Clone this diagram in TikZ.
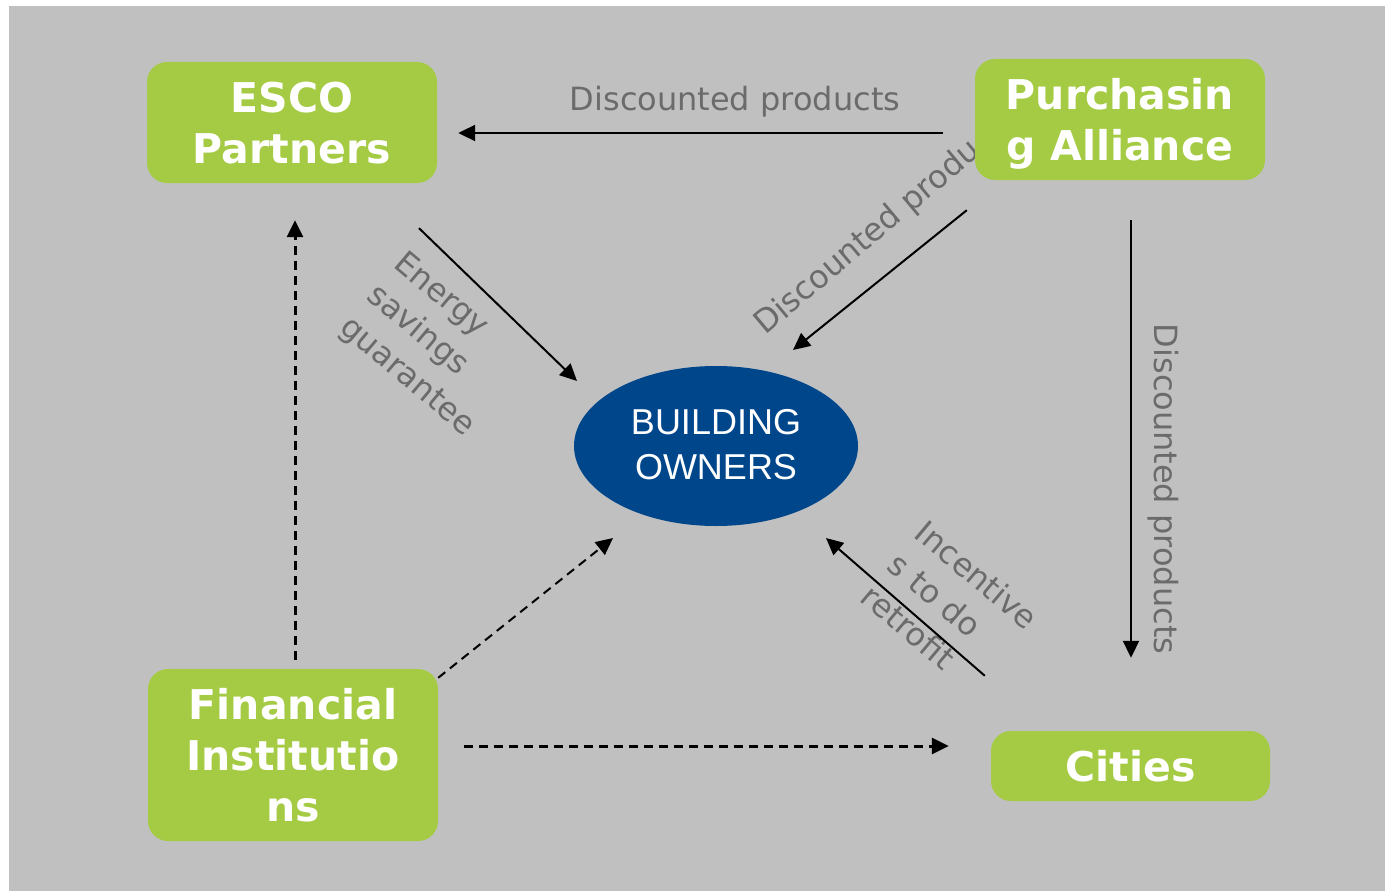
\documentclass[tikz,border=0pt]{standalone}
\usepackage{fontspec}
\setmainfont{DejaVu Sans}
\newfontfamily\arialfont{Liberation Sans}
\usetikzlibrary{arrows.meta, shapes.geometric}

\definecolor{leafgreen}{HTML}{A5CB44}
\definecolor{panelgray}{HTML}{C0C0C0}
\definecolor{ownerblue}{HTML}{00468B}
\definecolor{notegray}{HTML}{6B6B6B}

\tikzset{
  partner/.style={rectangle, rounded corners=20pt, fill=leafgreen, text=white,
    font=\bfseries\fontsize{41}{51}\selectfont, align=center, inner sep=0pt, text depth=-3pt},
  note/.style={text=notegray, font=\fontsize{32}{42}\selectfont, align=center, inner sep=0pt},
  flow/.style={line width=2pt, -{Triangle[length=17pt,width=16pt]}},
  fund/.style={flow, line width=3pt, dash pattern=on 9pt off 6pt},
  loan/.style={flow, dash pattern=on 9pt off 6pt}
}

\begin{document}
\begin{tikzpicture}[x=1pt, y=-1pt]
      \useasboundingbox (0,0) rectangle (1385,891);
      \fill[panelgray] (9,6) rectangle (1385,891);

      % labels first, so the boxes lie on top of them
      \node[note] (topnote) at (735,102) {Discounted products};
      \node[note, align=left, rotate=-40] (energynote) at (434,345) {Energy\\savings\\guarantee};
      \node[note, rotate=40] (diagnote) at (886,223) {Discounted products};
      \node[note, rotate=-90] (sidenote) at (1163,489) {Discounted products};
      \node[note, align=left, rotate=-40] (incentnote) at (950,607) {Incentive\\s to do\\retrofit};

      % the actors
      \node[partner, minimum width=290pt, minimum height=121pt] (esco) at (292,122.5) {ESCO\\Partners};
      \node[partner, minimum width=290pt, minimum height=121pt] (pa) at (1120,119.5) {Purchasin\\g Alliance};
      \node[partner, minimum width=290pt, minimum height=172pt] (fi) at (293,755) {Financial\\Institutio\\ns};
      \node[partner, minimum width=279pt, minimum height=70pt] (cities) at (1130.5,766) {Cities};
      \node[ellipse, fill=ownerblue, text=white, minimum width=284pt, minimum height=160pt, inner sep=0pt,
        font=\arialfont\fontsize{36}{45}\selectfont, align=center, text depth=4pt] (owners) at (716,446) {BUILDING\\OWNERS};

      % solid flows
      \draw[flow] ([shift={(-32,13.5)}]pa.west) -- ([shift={(21,10.5)}]esco.east);
      \draw[flow] ([shift={(127,45)}]esco.south) -- ([shift={(-139,-65)}]owners.center);
      \draw[flow] ([shift={(-8,30)}]pa.south west) -- ([shift={(77,-96)}]owners.center);
      \draw[flow] ([shift={(11,40)}]pa.south) -- ([shift={(0.5,-73)}]cities.north);
      \draw[flow] ([shift={(-6,-55)}]cities.north west) -- ([shift={(110,92)}]owners.center);

      % dashed flows
      \draw[fund] ([shift={(2,-9)}]fi.north) -- ([shift={(3,37)}]esco.south);
      \draw[loan] ([shift={(0,9)}]fi.north east) -- ([shift={(-103,92)}]owners.center);
      \draw[fund] ([shift={(26,-9)}]fi.east) -- ([shift={(-42,-20)}]cities.west);
\end{tikzpicture}
\end{document}
